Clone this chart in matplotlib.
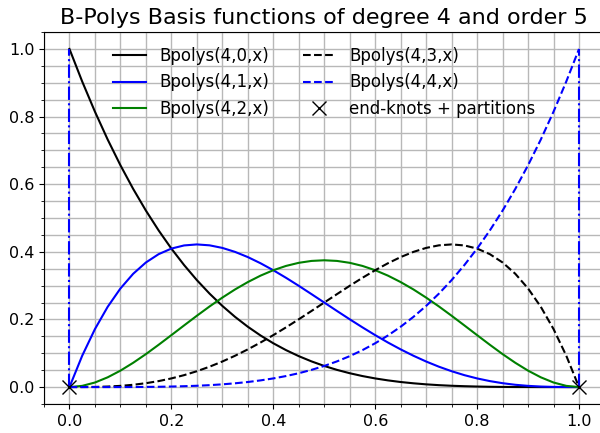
import matplotlib
matplotlib.use('Agg')
import matplotlib.pyplot as plt
from matplotlib.ticker import AutoMinorLocator

x = [0.0, 0.025, 0.05, 0.075, 0.1, 0.125, 0.15, 0.175, 0.2, 0.225,
     0.25, 0.275, 0.3, 0.325, 0.35, 0.375, 0.4, 0.425, 0.45, 0.475,
     0.5, 0.525, 0.55, 0.575, 0.6, 0.625, 0.65, 0.675, 0.7, 0.725,
     0.75, 0.775, 0.8, 0.825, 0.85, 0.875, 0.9, 0.925, 0.95, 0.975, 1.0]

b40 = [1.0, 0.9037, 0.8145, 0.7321, 0.6561, 0.5862, 0.5220, 0.4633, 0.4096, 0.3608,
       0.3164, 0.2763, 0.2401, 0.2076, 0.1785, 0.1526, 0.1296, 0.1093, 0.0915, 0.0760,
       0.0625, 0.0509, 0.0410, 0.0326, 0.0256, 0.0198, 0.0150, 0.0112, 0.0081, 0.0057,
       0.0039, 0.0026, 0.0016, 0.0009, 0.0005, 0.0002, 0.0001, 0.0, 0.0, 0.0, 0.0]
b41 = [0.0, 0.0927, 0.1715, 0.2374, 0.2916, 0.3350, 0.3685, 0.3931, 0.4096, 0.4189,
       0.4219, 0.4192, 0.4116, 0.3998, 0.3845, 0.3662, 0.3456, 0.3232, 0.2995, 0.2749,
       0.25, 0.2251, 0.2005, 0.1766, 0.1536, 0.1318, 0.1115, 0.0927, 0.0756, 0.0603,
       0.0469, 0.0353, 0.0256, 0.0177, 0.0115, 0.0068, 0.0036, 0.0016, 0.0005, 0.0001, 0.0]
b42 = [0.0, 0.0036, 0.0135, 0.0289, 0.0486, 0.0718, 0.0975, 0.1251, 0.1536, 0.1824,
       0.2109, 0.2385, 0.2646, 0.2888, 0.3105, 0.3296, 0.3456, 0.3583, 0.3675, 0.3731,
       0.375, 0.3731, 0.3675, 0.3583, 0.3456, 0.3296, 0.3105, 0.2888, 0.2646, 0.2385,
       0.2109, 0.1824, 0.1536, 0.1251, 0.0975, 0.0718, 0.0486, 0.0289, 0.0135, 0.0036, 0.0]
b43 = [0.0, 0.0001, 0.0005, 0.0016, 0.0036, 0.0068, 0.0115, 0.0177, 0.0256, 0.0353,
       0.0469, 0.0603, 0.0756, 0.0927, 0.1115, 0.1318, 0.1536, 0.1766, 0.2005, 0.2251,
       0.25, 0.2749, 0.2995, 0.3232, 0.3456, 0.3662, 0.3845, 0.3998, 0.4116, 0.4192,
       0.4219, 0.4189, 0.4096, 0.3931, 0.3685, 0.3350, 0.2916, 0.2374, 0.1715, 0.0927, 0.0]
b44 = [0.0, 0.0, 0.0, 0.0, 0.0001, 0.0002, 0.0005, 0.0009, 0.0016, 0.0026,
       0.0039, 0.0057, 0.0081, 0.0112, 0.0150, 0.0198, 0.0256, 0.0326, 0.0410, 0.0509,
       0.0625, 0.0760, 0.0915, 0.1093, 0.1296, 0.1526, 0.1785, 0.2076, 0.2401, 0.2763,
       0.3164, 0.3608, 0.4096, 0.4633, 0.5220, 0.5862, 0.6561, 0.7321, 0.8145, 0.9037, 1.0]

knots_x = [0.0, 1.0]
knots_y = [0.0, 0.0]

fig, ax = plt.subplots(figsize=(6, 4.33), dpi=100)

ax.plot(x, b40, 'k-', lw=1.5, label='Bpolys(4,0,x)')
ax.plot(x, b41, 'b-', lw=1.5, label='Bpolys(4,1,x)')
ax.plot(x, b42, 'g-', lw=1.5, label='Bpolys(4,2,x)')
ax.plot(x, b43, 'k--', lw=1.5, label='Bpolys(4,3,x)')
ax.plot(x, b44, 'b--', lw=1.5, label='Bpolys(4,4,x)')

# vertical dash-dot lines at the end knots
for k in knots_x:
    ax.plot([k, k], [0, 1], 'b-.', lw=1.5)

ax.plot(knots_x, knots_y, 'kx', ms=10, ls='none', label='end-knots + partitions')

ax.set_xlim(-0.05, 1.05)
ax.set_ylim(-0.05, 1.05)
ax.xaxis.set_minor_locator(AutoMinorLocator(4))
ax.yaxis.set_minor_locator(AutoMinorLocator(4))
ax.grid(True, which='both', color='#b8b8b8', lw=1)
ax.set_axisbelow(True)

ax.set_title('B-Polys Basis functions of degree 4 and order 5', fontsize=16)
ax.legend(ncol=2, frameon=False, loc='upper center', fontsize=12)
ax.tick_params(labelsize=11.5)

# the original picture is cut off just past the right edge of the axes
fig.subplots_adjust(left=0.0733, right=1.0075, top=0.926, bottom=0.067)
fig.savefig('out.png')
